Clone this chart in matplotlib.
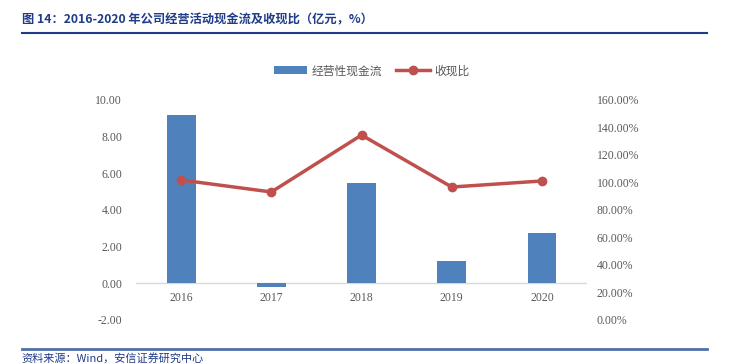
import matplotlib.pyplot as plt
import numpy as np

plt.rcParams['font.family'] = ['Noto Sans CJK SC', 'DejaVu Sans']

years = ["2016", "2017", "2018", "2019", "2020"]
cash_flow = [9.19, -0.20, 5.48, 1.23, 2.75]          # 经营性现金流 (亿元)
cash_ratio = [101.8, 93.1, 134.5, 96.7, 101.1]       # 收现比 (%)

bar_color = "#4F81BD"
line_color = "#C0504D"
tick_color = "#595959"
navy = "#1F3C88"
serif = ['Liberation Serif', 'DejaVu Serif']

fig = plt.figure(figsize=(7.29, 3.64), dpi=100)
ax = fig.add_axes([0.1866, 0.1209, 0.6187, 0.6044])
ax2 = ax.twinx()

x = np.arange(len(years))
bars = ax.bar(x, cash_flow, width=0.32, color=bar_color, label="经营性现金流", zorder=2)
line, = ax2.plot(x, cash_ratio, color=line_color, lw=2.5, marker='o', ms=6, label="收现比", zorder=3)

ax.set_xlim(-0.5, len(years) - 0.5)
ax.set_ylim(-2, 10)
ax.set_yticks(np.arange(-2, 10.01, 2))
ax.set_yticklabels([f"{v:.2f}" for v in np.arange(-2, 10.01, 2)])
ax2.set_ylim(0, 160)
ax2.set_yticks(np.arange(0, 160.1, 20))
ax2.set_yticklabels([f"{v:.2f}%" for v in np.arange(0, 160.1, 20)])

ax.axhline(0, color="#D9D9D9", lw=1, zorder=1)
ax.set_xticks(x)
ax.set_xticklabels([])
# year labels sit just below the zero line
for xi, yr in zip(x, years):
    ax.text(xi, -0.45, yr, ha='center', va='top', fontsize=8.5, color=tick_color, family=serif)

for a in (ax, ax2):
    for s in a.spines.values():
        s.set_visible(False)
    a.tick_params(length=0, colors=tick_color, labelsize=8.5)
    for lab in a.get_yticklabels():
        lab.set_family(serif)
ax.tick_params(axis='y', pad=10)
ax2.tick_params(axis='y', pad=7)

fig.legend(handles=[bars, line], loc='center', bbox_to_anchor=(0.51, 0.805), ncol=2, frameon=False,
           fontsize=8.5, labelcolor=tick_color, handlelength=2.8, columnspacing=1.2, handletextpad=0.4)

fig.text(0.03, 0.945, "图 14：2016-2020 年公司经营活动现金流及收现比（亿元，%）", fontsize=8.8,
         fontweight='bold', color=navy, va='center')
fig.add_artist(plt.Line2D([0.03, 0.97], [0.908, 0.908], color=navy, lw=1.5))
fig.add_artist(plt.Line2D([0.03, 0.97], [0.04, 0.04], color="#4F6FA8", lw=2))
fig.text(0.03, 0.03, "资料来源：Wind，安信证券研究中心", fontsize=8, color=navy, va='top', style='italic')

fig.savefig("out.png", dpi=100)
